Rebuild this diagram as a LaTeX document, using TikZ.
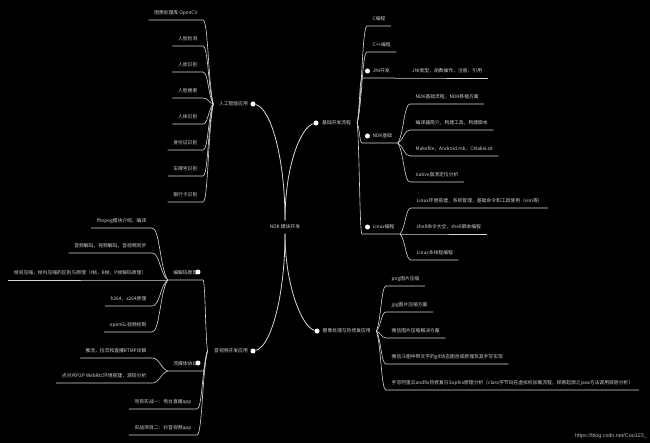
\documentclass[tikz,border=0pt]{standalone}
\usepackage{fontspec}
\setmainfont{Noto Sans CJK SC}
\newfontfamily\wmfont{Liberation Sans}
\usetikzlibrary{calc}
\definecolor{bg}{HTML}{000000}
\definecolor{ln}{HTML}{D6D6D6}
\definecolor{tx}{HTML}{D2D2D2}
\definecolor{wm}{HTML}{B8B8B8}
\tikzset{
  txt/.style={font=\fontsize{4.8bp}{5bp}\selectfont, text=tx, text height=4bp, text depth=1bp},
  leafr/.style={txt, anchor=south west, inner xsep=5.5bp, inner ysep=4bp},
  leafl/.style={txt, anchor=south east, inner xsep=5.5bp, inner ysep=4bp},
  mainn/.style={txt, inner xsep=1.5bp, inner ysep=1bp},
  ctrn/.style={txt, inner xsep=1.5bp, inner ysep=4bp},
  dotn/.style={circle, fill=white, draw=none, inner sep=0pt, minimum size=5bp},
  br/.style={draw=ln, line width=0.6bp, to path={let \p1=(\tikztostart), \p2=(\tikztotarget) in .. controls ({\x1+0.5*(\x2-\x1)},{\y1+0.25*(\y2-\y1)}) and ({\x1+0.5*(\x2-\x1)},\y2) .. (\tikztotarget) \tikztonodes}},
  trunk/.style={draw=ln, line width=0.8bp},
}
\begin{document}
\begin{tikzpicture}[x=1bp,y=-1bp]
\fill[bg] (0,0) rectangle (650,443);
\useasboundingbox (0,0) rectangle (650,443);

% centre
\node[ctrn] (ctr) at (285,227) {NDK 模块开发};

% main nodes
\node[dotn] (aid) at (253,104) {};
\node[mainn, anchor=east] (ai) at (249.5,104) {人工智能应用};
\coordinate (aib) at ($(ai.west)+(-4,0)$);

\node[dotn] (jcd) at (316,123) {};
\node[mainn, anchor=west] (jc) at (320.5,123) {基础开发流程};
\coordinate (jcb) at ($(jc.east)+(4.5,0)$);

\node[dotn] (imd) at (317,331) {};
\node[mainn, anchor=west] (im) at (321,331) {图像处理与热修复应用};
\coordinate (imb) at ($(im.east)+(4,0)$);

\node[dotn] (avd) at (253,351) {};
\node[mainn, anchor=east] (av) at (249.5,351) {音视频开发应用};
\coordinate (avb) at ($(av.west)+(-5,0)$);

\draw[trunk] (ctr.north) .. controls +(0,-62) and +(18,4) .. (aid);
\draw[trunk] (ctr.north) .. controls +(0,-55) and +(-15,4) .. (jcd);
\draw[trunk] (ctr.south) .. controls +(0,62) and +(18,-4) .. (avd);
\draw[trunk] (ctr.south) .. controls +(0,52) and +(-15,-4) .. (imd);

% ---- 人工智能应用
\node[leafl] (a1) at (203,20) {图像处理库 OpenCV};
\node[leafl] (a2) at (203,46) {人脸检测};
\node[leafl] (a3) at (203,72) {人脸识别};
\node[leafl] (a4) at (203,98) {人脸搜索};
\node[leafl] (a5) at (203,124) {人体识别};
\node[leafl] (a6) at (203,150) {身份证识别};
\node[leafl] (a7) at (203,176) {车牌号识别};
\node[leafl] (a8) at (203,202) {银行卡识别};
\foreach \m in {a1,a2,a3,a4,a5,a6,a7,a8}
  \draw[br] (aib) to (\m.south east) -- (\m.south west);

% ---- 基础开发流程
\node[leafr] (c1) at (367,26) {C编程};
\node[leafr] (c2) at (367,52) {C++编程};
\node[leafr] (jni) at (362,78) {\hspace{5bp}JNI开发};
\node[dotn] (jnid) at (367.5,71) {};
\node[leafr] (ndk) at (362,143) {\hspace{5bp}NDK基础};
\node[dotn] (ndkd) at (367.5,136) {};
\node[leafr] (lnx) at (362,234) {\hspace{5bp}Linux编程};
\node[dotn] (lnxd) at (367.5,227) {};
\foreach \m in {c1,c2,jni,ndk,lnx}
  \draw[br] (jcb) to (\m.south west) -- (\m.south east);

\node[leafr] (j1) at (406.5,78) {JNI类型，函数操作，注册，引用};
\draw[br] (jni.south east) to (j1.south west) -- (j1.south east);

\node[leafr] (n1) at (410,104) {NDK基础流程，NDK移植方案};
\node[leafr] (n2) at (410,130) {编译器简介，构建工具，构建脚本};
\node[leafr] (n3) at (410,156) {Makefile，Android.mk，CMakeList};
\node[leafr] (n4) at (410,182) {native崩溃定位分析};
\foreach \m in {n1,n2,n3,n4}
  \draw[br] (ndk.south east) to (\m.south west) -- (\m.south east);

\node[leafr] (l1) at (411,208) {Linux环境搭建，系统管理，基础命令和工具使用（vim等）};
\node[leafr] (l2) at (411,234) {shell命令大全，shell脚本编程};
\node[leafr] (l3) at (411,260) {Linux多线程编程};
\foreach \m in {l1,l2,l3}
  \draw[br] (lnx.south east) to (\m.south west) -- (\m.south east);

% ---- 图像处理与热修复应用
\node[leafr] (p1) at (386,286) {png图片压缩};
\node[leafr] (p2) at (386,312) {jpg图片压缩方案};
\node[leafr] (p3) at (386,338) {微信图片压缩解决方案};
\node[leafr] (p4) at (386,364) {微信斗图中带文字的gif动态图合成原理及其手写实现};
\node[leafr] (p5) at (386,390) {手写阿里云andfix热修复与Sophix原理分析（class字节码在虚拟机加载流程，探索起源之java方法调用底层分析）};
\foreach \m in {p1,p2,p3,p4,p5}
  \draw[br] (imb) to (\m.south west) -- (\m.south east);

% ---- 音视频开发应用
\node[leafl] (cod) at (203,280) {编解码原理\hspace{5bp}};
\node[dotn] (codd) at (198,272) {};
\node[leafl] (stm) at (203,371) {流媒体协议\hspace{5bp}};
\node[dotn] (stmd) at (198,363) {};
\node[leafl] (pj1) at (197,409) {项目实战一：电台直播app};
\node[leafl] (pj2) at (197,435) {实战项目二：抖音视频app};
\foreach \m in {cod,stm,pj1,pj2}
  \draw[br] (avb) to (\m.south east) -- (\m.south west);

\node[leafl] (v1) at (152,228) {ffmpeg模块介绍，编译};
\node[leafl] (v2) at (152,253) {音频解码，视频解码，音视频同步};
\node[leafl] (v3) at (152,280) {帧间压缩，帧内压缩的区别与原理（I帧，B帧，P帧解码原理）};
\node[leafl] (v4) at (152,306) {h264，x264原理};
\node[leafl] (v5) at (152,332) {openGL视频绘制};
\foreach \m in {v1,v2,v3,v4,v5}
  \draw[br] (cod.south west) to (\m.south east) -- (\m.south west);

\node[leafl] (s1) at (152,358) {推流，拉流和直播RTMP详解};
\node[leafl] (s2) at (152,383) {点对点P2P WebRtc环境搭建，源码分析};
\foreach \m in {s1,s2}
  \draw[br] (stm.south west) to (\m.south east) -- (\m.south west);

% watermark
\node[anchor=east, inner sep=0pt, font=\wmfont\fontsize{5.4bp}{6bp}\selectfont, text=wm] (wmk) at (647,436) {https://blog.csdn.net/Coo123\_};
\end{tikzpicture}
\end{document}
